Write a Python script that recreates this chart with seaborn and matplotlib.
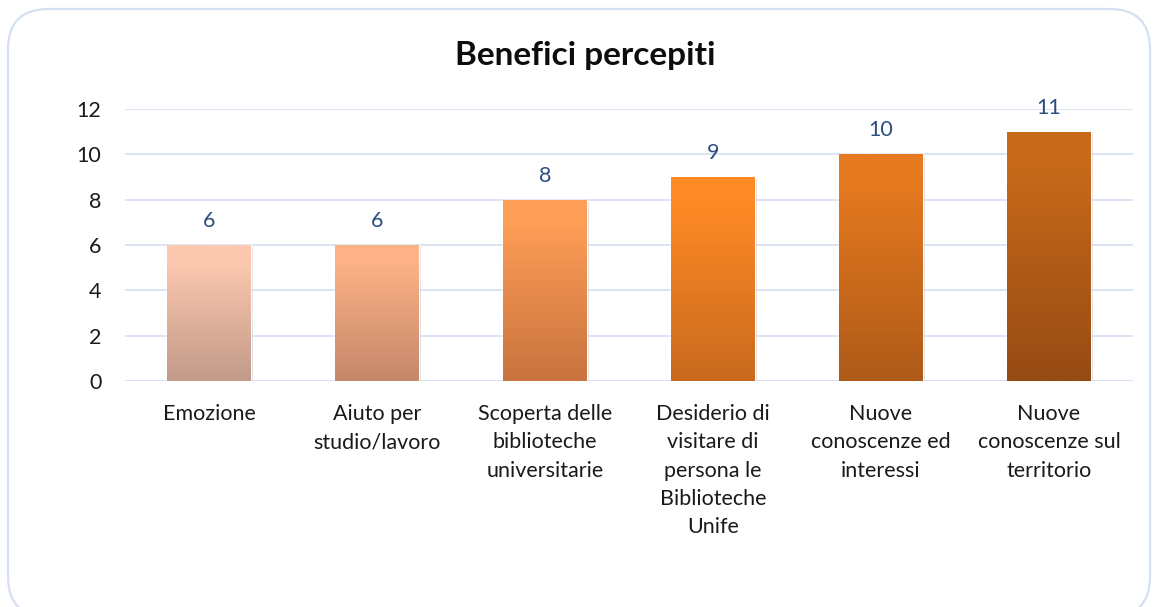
import numpy as np
import pandas as pd
import matplotlib
matplotlib.use("Agg")
import matplotlib.pyplot as plt
import seaborn as sns
from matplotlib.patches import FancyBboxPatch
from matplotlib.colors import to_rgb
import matplotlib.patheffects as pe

categories = ["Emozione", "Aiuto per\nstudio/lavoro", "Scoperta delle\nbiblioteche\nuniversitarie",
              "Desiderio di\nvisitare di\npersona le\nBiblioteche\nUnife",
              "Nuove\nconoscenze ed\ninteressi", "Nuove\nconoscenze sul\nterritorio"]
values = [6, 6, 8, 9, 10, 11]
title = "Benefici percepiti"
yticks = [0, 2, 4, 6, 8, 10, 12]
top_colors = ["#FCC8AF", "#FDB286", "#FE9E57", "#FF8A25", "#E67A20", "#C86A1A"]
bottom_colors = ["#C29A89", "#C5876A", "#C8733E", "#C86A1E", "#AE5A18", "#964B14"]

sns.set_theme(style="white")
plt.rcParams['font.family'] = ['Lato', 'DejaVu Sans']

df = pd.DataFrame({"cat": categories, "val": values})

W, H = 1153, 607
fig = plt.figure(figsize=(W / 100, H / 100), dpi=100)
fig.patch.set_facecolor("white")

# rounded border
border = FancyBboxPatch((8 / W, -10 / H), (1150 - 8) / W, (H - 9 + 10) / H,
                        boxstyle="round,pad=0,rounding_size=0.035",
                        transform=fig.transFigure, fill=False,
                        edgecolor="#D5E0F1", linewidth=1.6, mutation_aspect=W / H)
fig.patches.append(border)

ax = fig.add_axes([125 / W, (H - 381) / H, (1133 - 125) / W, (381 - 109) / H])
sns.barplot(data=df, x="cat", y="val", hue="cat", palette=top_colors, legend=False,
            width=0.5, ax=ax, saturation=1, zorder=3)

ax.set_ylim(0, 12)
ax.set_xlim(-0.5, len(categories) - 0.5)
ax.set_yticks(yticks)
ax.yaxis.grid(True, color="#D9E2F3", linewidth=1.3, zorder=0)
ax.set_axisbelow(True)
for s in ax.spines.values():
    s.set_visible(False)
ax.axhline(0, color="#D9E2F3", linewidth=1.3, zorder=1)
ax.set_xlabel("")
ax.set_ylabel("")
ax.tick_params(axis="y", labelsize=15.5, pad=17, length=0, labelcolor="#1a1a1a")
ax.tick_params(axis="x", labelsize=15.5, pad=16.5, length=0, labelcolor="#1a1a1a")
for lab in ax.get_xticklabels():
    lab.set_linespacing(1.52)

# gradient fills
patches = sorted(ax.patches, key=lambda p: p.get_x())
for p, tc, bc in zip(patches, top_colors, bottom_colors):
    x0, y0 = p.get_x(), p.get_y()
    w, h = p.get_width(), p.get_height()
    t = np.array(to_rgb(tc)); b = np.array(to_rgb(bc))
    n = 200
    s = np.linspace(0, 1, n)  # 0 at top, 1 at bottom
    f = np.clip((s - 0.12) / 0.88, 0, 1)
    grad = (t[None, :] * (1 - f[:, None]) + b[None, :] * f[:, None])[:, None, :]
    p.set_path_effects([pe.SimplePatchShadow(offset=(1.5, -1.5), shadow_rgbFace="#8a8a8a", alpha=0.3),
                        pe.Normal()])
    im = ax.imshow(grad, extent=(x0, x0 + w, y0, y0 + h), aspect="auto", zorder=4,
                   interpolation="bilinear")
    im.set_clip_path(p)

ax.set_xlim(-0.5, len(categories) - 0.5)
ax.set_ylim(0, 12)

for i, v in enumerate(values):
    ax.annotate(str(v), (i, v), xytext=(0, 10), textcoords="offset points",
                ha="center", va="bottom", fontsize=15.5, color="#2C4D80",
                annotation_clip=False, zorder=6)

fig.text(585 / W, 1 - 55 / H, title, ha="center", va="center", fontsize=24,
         fontweight="bold", color="#0d0d0d")

fig.savefig("out.png", dpi=100, facecolor="white")
